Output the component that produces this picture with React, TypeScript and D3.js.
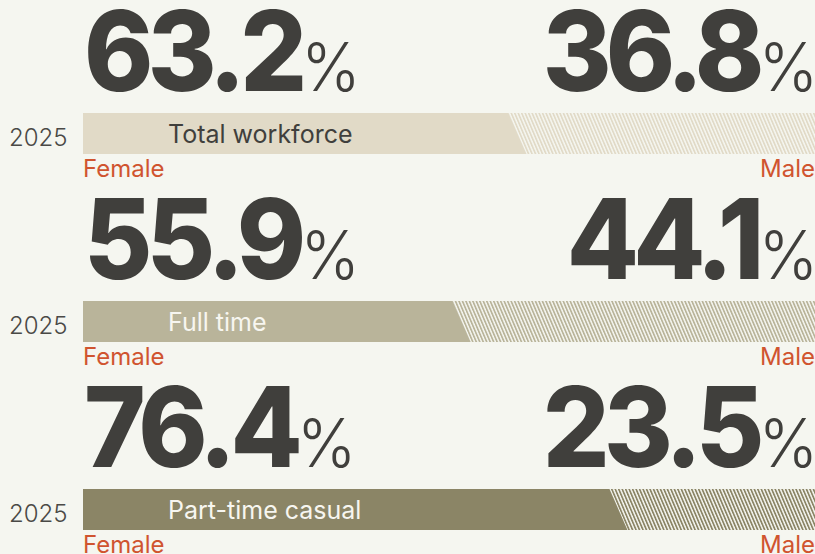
import React from 'react';
import * as d3 from 'd3';

const categories = ['Total workforce', 'Full time', 'Part-time casual'];
const femaleShare = [63.2, 55.9, 76.4];
const maleShare = [36.8, 44.1, 23.5];
const years = ['2025', '2025', '2025'];

const barColors = ['#e1dac7', '#b9b49a', '#8b8566'];
const labelColors = ['#403f3c', '#f7f6f0', '#f7f6f0'];

const width = 815;
const height = 554;
const barLeft = 83;
const barH = 41;
const slant = 9;

// big condensed percentage figure
const BigValue: React.FC<{ v: number; x: number; y: number; anchor: 'start' | 'end' }> = ({ v, x, y, anchor }) => (
  <g transform={`translate(${x},${y}) scale(0.945,1)`}>
    <text x={0} y={0} textAnchor={anchor} fill="#403f3c" fontFamily="Inter, sans-serif">
      <tspan fontSize={111} fontWeight={800} style={{ letterSpacing: '-6px' }}>{v.toFixed(1)}</tspan>
      <tspan fontSize={67} fontWeight={300} dx={0} style={{ letterSpacing: '0px' }}>%</tspan>
    </text>
  </g>
);

const App: React.FC = () => {
  const x = d3.scaleLinear().domain([0, 100]).range([34, 799]);
  const y = d3.scalePoint<string>().domain(categories).range([113, 489]);

  return (
    <svg
      width={width}
      height={height}
      style={{ position: 'absolute', left: 0, top: 0, background: '#f5f6f0' }}
    >
      <defs>
        {categories.map((c, i) => (
          <pattern
            key={c}
            id={`hatch-${i}`}
            patternUnits="userSpaceOnUse"
            width={3.2}
            height={10}
            patternTransform="rotate(-23)"
          >
            <rect width={3.2} height={10} fill="#f5f6f0" />
            <rect width={1.7} height={10} fill={barColors[i]} />
          </pattern>
        ))}
      </defs>
      <rect width={width} height={height} fill="#f5f6f0" />
      {categories.map((c, i) => {
        const top = y(c)!;
        const xe = x(femaleShare[i]);
        const fem = `M${barLeft},${top}H${xe - slant}L${xe + slant},${top + barH}H${barLeft}Z`;
        const male = `M${xe - slant},${top}H${width}V${top + barH}H${xe + slant}Z`;
        return (
          <g key={c}>
            <BigValue v={femaleShare[i]} x={84} y={top - 22} anchor="start" />
            <BigValue v={maleShare[i]} x={818} y={top - 22} anchor="end" />
            <path d={male} fill={`url(#hatch-${i})`} />
            <path d={fem} fill={barColors[i]} />
            <text
              x={168}
              y={top + 30}
              fontSize={25}
              fill={labelColors[i]}
              fontFamily="Inter, sans-serif"
            >
              {c}
            </text>
            <text
              x={9}
              y={top + 33}
              fontSize={24}
              fill="#4a4946"
              fontFamily="Inter, sans-serif"
              fontWeight={300}
            >
              {years[i]}
            </text>
            <text
              x={barLeft}
              y={top + 64}
              fontSize={24}
              fill="#d0542f"
              fontFamily="Inter, sans-serif"
            >
              Female
            </text>
            <text
              x={width}
              y={top + 64}
              textAnchor="end"
              fontSize={24}
              fill="#d0542f"
              fontFamily="Inter, sans-serif"
            >
              Male
            </text>
          </g>
        );
      })}
    </svg>
  );
};

export default App;
